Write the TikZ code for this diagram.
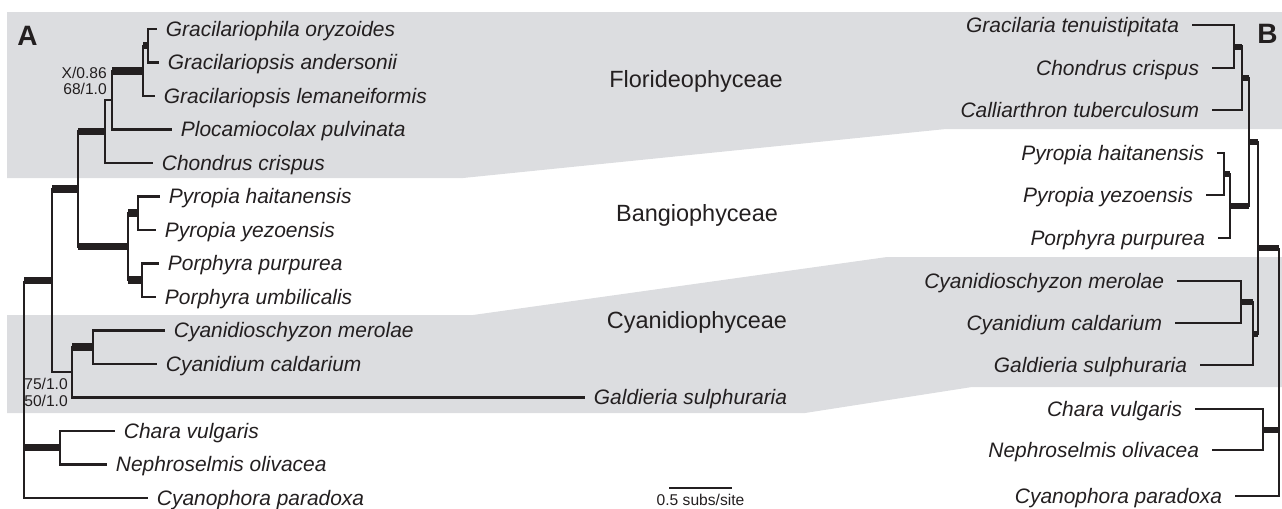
\documentclass[tikz,border=0pt]{standalone}
\usepackage{fontspec}
\setmainfont{Liberation Sans}
\definecolor{pasek}{RGB}{220,221,224}
\definecolor{tusz}{RGB}{35,31,32}
\begin{document}
\begin{tikzpicture}[x=0.75pt, y=-0.75pt,
    galaz/.style={draw=tusz, line width=1.7pt},
    silna/.style={draw=tusz, line width=5.5pt},
    silnaB/.style={draw=tusz, line width=4.5pt},
    takson/.style={font=\itshape\fontsize{15.7}{18}\selectfont, text=tusz, inner ysep=0pt, text height=11.2pt, text depth=0pt},
    lewy/.style={takson, anchor=west, inner xsep=6.5pt},
    prawy/.style={takson, anchor=east, inner xsep=9.5pt},
    klasa/.style={font=\fontsize{17.6}{20}\selectfont, text=tusz, inner sep=0pt, text height=12.6pt, text depth=0pt},
    wsparcie/.style={font=\fontsize{11.7}{13}\selectfont, text=tusz, inner sep=0pt, text height=8.4pt, text depth=0pt, anchor=east},
    litera/.style={font=\bfseries\fontsize{21}{24}\selectfont, text=tusz, inner sep=0pt, text height=15pt, text depth=0pt}]
        \useasboundingbox (0,0) rectangle (1282,508);

        % Tlo grup
        \fill[pasek] (7,12) -- (1282,12) -- (1282,129) -- (946,129) -- (463,178) -- (7,178) -- cycle;
        \fill[pasek] (7,315) -- (473,315) -- (887,257) -- (1282,257) -- (1282,387) -- (972,387) -- (805,413) -- (7,413) -- cycle;

        \node[klasa] (kFlo) at (696,79) {Florideophyceae};
        \node[klasa] (kBan) at (697,213) {Bangiophyceae};
        \node[klasa] (kCya) at (697,320) {Cyanidiophyceae};

        \node[litera] (pA) at (27.5,35) {A};
        \node[litera] (pB) at (1267.5,33) {B};

        % Drzewo A - wezly
        \coordinate (gA) at (148,45.75);
        \coordinate (gB) at (143,71);
        \coordinate (gC) at (112,100);
        \coordinate (fl) at (105,131.5);
        \coordinate (n2) at (78,189);
        \coordinate (bA) at (138,213);
        \coordinate (bB) at (142,280);
        \coordinate (ba) at (128,246.5);
        \coordinate (cA) at (93,347);
        \coordinate (cy) at (72,372);
        \coordinate (n1) at (52,280.5);
        \coordinate (gr) at (60,447.75);
        \coordinate (r0) at (24,280.5);

        % Drzewo A - liscie
        \node[lewy] (lOry) at (157,29) {Gracilariophila oryzoides};
        \node[lewy] (lAnd) at (159,62.5) {Gracilariopsis andersonii};
        \node[lewy] (lLem) at (155,96) {Gracilariopsis lemaneiformis};
        \node[lewy] (lPlo) at (172,129.5) {Plocamiocolax pulvinata};
        \node[lewy] (lCho) at (153,163) {Chondrus crispus};
        \node[lewy] (lHai) at (160,196.5) {Pyropia haitanensis};
        \node[lewy] (lYez) at (156,230) {Pyropia yezoensis};
        \node[lewy] (lPur) at (159,263.5) {Porphyra purpurea};
        \node[lewy] (lUmb) at (156,297) {Porphyra umbilicalis};
        \node[lewy] (lCme) at (165,330.5) {Cyanidioschyzon merolae};
        \node[lewy] (lCca) at (157,364) {Cyanidium caldarium};
        \node[lewy] (lGsu) at (585,397.5) {Galdieria sulphuraria};
        \node[lewy] (lCvu) at (115,431) {Chara vulgaris};
        \node[lewy] (lNol) at (107,464.5) {Nephroselmis olivacea};
        \node[lewy] (lCpa) at (148,498) {Cyanophora paradoxa};

        \node[wsparcie] (wX) at (107,72.5) {X/0.86};
        \node[wsparcie] (w68) at (107,89) {68/1.0};
        \node[wsparcie] (w75) at (68,383.5) {75/1.0};
        \node[wsparcie] (w50) at (68,400.5) {50/1.0};

        % Drzewo A - galezie
        \draw[galaz] (gA) |- (lOry.west) (gA) |- (lAnd.west);
        \draw[galaz] (gB) |- (gA) (gB) |- (lLem.west);
        \draw[galaz] (gC) |- (gB) (gC) |- (lPlo.west);
        \draw[galaz] (fl) |- (gC) (fl) |- (lCho.west);
        \draw[galaz] (bA) |- (lHai.west) (bA) |- (lYez.west);
        \draw[galaz] (bB) |- (lPur.west) (bB) |- (lUmb.west);
        \draw[galaz] (ba) |- (bA) (ba) |- (bB);
        \draw[galaz] (n2) |- (fl) (n2) |- (ba);
        \draw[galaz] (cA) |- (lCme.west) (cA) |- (lCca.west);
        \draw[galaz] (cy) |- (cA) (cy) |- (lGsu.west);
        \draw[galaz] (n1) |- (n2) (n1) |- (cy);
        \draw[galaz] (gr) |- (lCvu.west) (gr) |- (lNol.west);
        \draw[galaz] (r0) -- (n1) (r0) |- (gr) (r0) |- (lCpa.west);
        \draw[silna] (gB |- gA) -- (gA);
        \draw[silna] (gC |- gB) -- (gB);
        \draw[silna] (n2 |- fl) -- (fl);
        \draw[silna] (ba |- bA) -- (bA);
        \draw[silna] (ba |- bB) -- (bB);
        \draw[silna] (n2 |- ba) -- (ba);
        \draw[silna] (n1 |- n2) -- (n2);
        \draw[silna] (cy |- cA) -- (cA);
        \draw[silna] (r0) -- (n1);
        \draw[silna] (r0 |- gr) -- (gr);

        % Skala
        \coordinate (s1) at (669,488);
        \coordinate (s2) at (732,488);
        \draw[draw=tusz, line width=2pt] (s1) -- (s2);
        \node[wsparcie, anchor=center] (sTxt) at (700.5,500) {0.5 subs/site};

        % Drzewo B - wezly
        \coordinate (rA) at (1234,46.5);
        \coordinate (rB) at (1242,78);
        \coordinate (rP) at (1224,174);
        \coordinate (rBa) at (1230,206);
        \coordinate (rF) at (1249,142);
        \coordinate (rCA) at (1241,302);
        \coordinate (rC) at (1253,333.5);
        \coordinate (rM) at (1258,248);
        \coordinate (rG) at (1263,430);
        \coordinate (rR) at (1279,248);

        % Drzewo B - liscie
        \node[prawy] (pGte) at (1192,25) {Gracilaria tenuistipitata};
        \node[prawy] (pCcr) at (1212,68) {Chondrus crispus};
        \node[prawy] (pCtu) at (1212,110) {Calliarthron tuberculosum};
        \node[prawy] (pHai) at (1217,153) {Pyropia haitanensis};
        \node[prawy] (pYez) at (1206,195) {Pyropia yezoensis};
        \node[prawy] (pPur) at (1218,238) {Porphyra purpurea};
        \node[prawy] (pCme) at (1177,281) {Cyanidioschyzon merolae};
        \node[prawy] (pCca) at (1175,323) {Cyanidium caldarium};
        \node[prawy] (pGsu) at (1200,365) {Galdieria sulphuraria};
        \node[prawy] (pCvu) at (1195,409) {Chara vulgaris};
        \node[prawy] (pNol) at (1212,450) {Nephroselmis olivacea};
        \node[prawy] (pCpa) at (1235,496) {Cyanophora paradoxa};

        % Drzewo B - galezie
        \draw[galaz] (rA) |- (pGte.east) (rA) |- (pCcr.east);
        \draw[galaz] (rB) |- (rA) (rB) |- (pCtu.east);
        \draw[galaz] (rP) |- (pHai.east) (rP) |- (pYez.east);
        \draw[galaz] (rBa) |- (rP) (rBa) |- (pPur.east);
        \draw[galaz] (rF) |- (rB) (rF) |- (rBa);
        \draw[galaz] (rCA) |- (pCme.east) (rCA) |- (pCca.east);
        \draw[galaz] (rC) |- (rCA) (rC) |- (pGsu.east);
        \draw[galaz] (rM) |- (rF) (rM) |- (rC);
        \draw[galaz] (rG) |- (pCvu.east) (rG) |- (pNol.east);
        \draw[galaz] (rR) -- (rM) (rR) |- (rG) (rR) |- (pCpa.east);
        \draw[silnaB] (rB |- rA) -- (rA);
        \draw[silnaB] (rF |- rB) -- (rB);
        \draw[silnaB] (rBa |- rP) -- (rP);
        \draw[silnaB] (rF |- rBa) -- (rBa);
        \draw[silnaB] (rM |- rF) -- (rF);
        \draw[silnaB] (rC |- rCA) -- (rCA);
        \draw[silnaB] (rM |- rC) -- (rC);
        \draw[silnaB] (rR) -- (rM);
        \draw[silnaB] (rR |- rG) -- (rG);
    \end{tikzpicture}
\end{document}
